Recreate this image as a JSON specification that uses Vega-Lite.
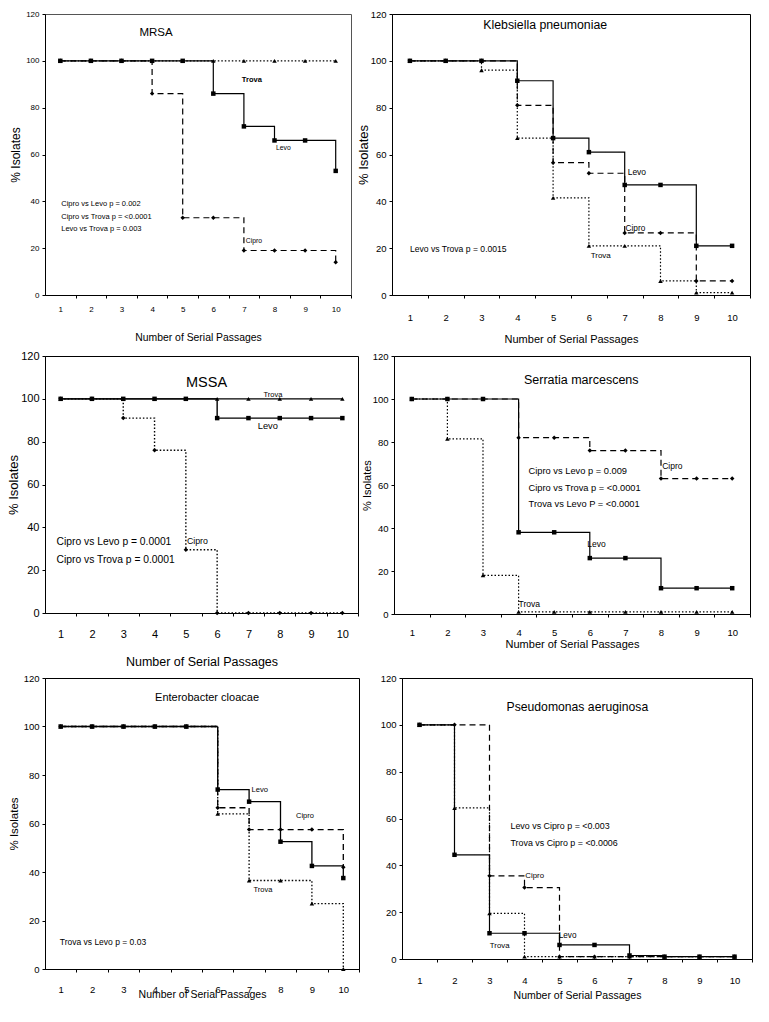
{
  "$schema": "https://vega.github.io/schema/vega-lite/v6.json",
  "padding": {"left": 7, "top": 8, "right": 5, "bottom": 5},
  "background": "white",
  "datasets": {
    "d": [
      {"panel": "MRSA", "drug": "Cipro", "passage": 1, "pct": 100}, {"panel": "MRSA", "drug": "Cipro", "passage": 2, "pct": 100}, {"panel": "MRSA", "drug": "Cipro", "passage": 3, "pct": 100}, {"panel": "MRSA", "drug": "Cipro", "passage": 4, "pct": 86}, {"panel": "MRSA", "drug": "Cipro", "passage": 5, "pct": 33}, {"panel": "MRSA", "drug": "Cipro", "passage": 6, "pct": 33}, {"panel": "MRSA", "drug": "Cipro", "passage": 7, "pct": 19}, {"panel": "MRSA", "drug": "Cipro", "passage": 8, "pct": 19}, {"panel": "MRSA", "drug": "Cipro", "passage": 9, "pct": 19}, {"panel": "MRSA", "drug": "Cipro", "passage": 10, "pct": 14},
      {"panel": "MRSA", "drug": "Trova", "passage": 1, "pct": 100}, {"panel": "MRSA", "drug": "Trova", "passage": 2, "pct": 100}, {"panel": "MRSA", "drug": "Trova", "passage": 3, "pct": 100}, {"panel": "MRSA", "drug": "Trova", "passage": 4, "pct": 100}, {"panel": "MRSA", "drug": "Trova", "passage": 5, "pct": 100}, {"panel": "MRSA", "drug": "Trova", "passage": 6, "pct": 100}, {"panel": "MRSA", "drug": "Trova", "passage": 7, "pct": 100}, {"panel": "MRSA", "drug": "Trova", "passage": 8, "pct": 100}, {"panel": "MRSA", "drug": "Trova", "passage": 9, "pct": 100}, {"panel": "MRSA", "drug": "Trova", "passage": 10, "pct": 100},
      {"panel": "MRSA", "drug": "Levo", "passage": 1, "pct": 100}, {"panel": "MRSA", "drug": "Levo", "passage": 2, "pct": 100}, {"panel": "MRSA", "drug": "Levo", "passage": 3, "pct": 100}, {"panel": "MRSA", "drug": "Levo", "passage": 4, "pct": 100}, {"panel": "MRSA", "drug": "Levo", "passage": 5, "pct": 100}, {"panel": "MRSA", "drug": "Levo", "passage": 6, "pct": 86}, {"panel": "MRSA", "drug": "Levo", "passage": 7, "pct": 72}, {"panel": "MRSA", "drug": "Levo", "passage": 8, "pct": 66}, {"panel": "MRSA", "drug": "Levo", "passage": 9, "pct": 66}, {"panel": "MRSA", "drug": "Levo", "passage": 10, "pct": 53},

      {"panel": "Kleb", "drug": "Cipro", "passage": 1, "pct": 100}, {"panel": "Kleb", "drug": "Cipro", "passage": 2, "pct": 100}, {"panel": "Kleb", "drug": "Cipro", "passage": 3, "pct": 100}, {"panel": "Kleb", "drug": "Cipro", "passage": 4, "pct": 81}, {"panel": "Kleb", "drug": "Cipro", "passage": 5, "pct": 56.5}, {"panel": "Kleb", "drug": "Cipro", "passage": 6, "pct": 52}, {"panel": "Kleb", "drug": "Cipro", "passage": 7, "pct": 26.5}, {"panel": "Kleb", "drug": "Cipro", "passage": 8, "pct": 26.5}, {"panel": "Kleb", "drug": "Cipro", "passage": 9, "pct": 6}, {"panel": "Kleb", "drug": "Cipro", "passage": 10, "pct": 6},
      {"panel": "Kleb", "drug": "Trova", "passage": 1, "pct": 100}, {"panel": "Kleb", "drug": "Trova", "passage": 2, "pct": 100}, {"panel": "Kleb", "drug": "Trova", "passage": 3, "pct": 96}, {"panel": "Kleb", "drug": "Trova", "passage": 4, "pct": 67}, {"panel": "Kleb", "drug": "Trova", "passage": 5, "pct": 41.5}, {"panel": "Kleb", "drug": "Trova", "passage": 6, "pct": 21}, {"panel": "Kleb", "drug": "Trova", "passage": 7, "pct": 21}, {"panel": "Kleb", "drug": "Trova", "passage": 8, "pct": 6}, {"panel": "Kleb", "drug": "Trova", "passage": 9, "pct": 1}, {"panel": "Kleb", "drug": "Trova", "passage": 10, "pct": 1},
      {"panel": "Kleb", "drug": "Levo", "passage": 1, "pct": 100}, {"panel": "Kleb", "drug": "Levo", "passage": 2, "pct": 100}, {"panel": "Kleb", "drug": "Levo", "passage": 3, "pct": 100}, {"panel": "Kleb", "drug": "Levo", "passage": 4, "pct": 91.5}, {"panel": "Kleb", "drug": "Levo", "passage": 5, "pct": 67}, {"panel": "Kleb", "drug": "Levo", "passage": 6, "pct": 61}, {"panel": "Kleb", "drug": "Levo", "passage": 7, "pct": 47}, {"panel": "Kleb", "drug": "Levo", "passage": 8, "pct": 47}, {"panel": "Kleb", "drug": "Levo", "passage": 9, "pct": 21}, {"panel": "Kleb", "drug": "Levo", "passage": 10, "pct": 21},

      {"panel": "MSSA", "drug": "Cipro", "passage": 1, "pct": 100}, {"panel": "MSSA", "drug": "Cipro", "passage": 2, "pct": 100}, {"panel": "MSSA", "drug": "Cipro", "passage": 3, "pct": 91}, {"panel": "MSSA", "drug": "Cipro", "passage": 4, "pct": 76}, {"panel": "MSSA", "drug": "Cipro", "passage": 5, "pct": 29.5}, {"panel": "MSSA", "drug": "Cipro", "passage": 6, "pct": 0}, {"panel": "MSSA", "drug": "Cipro", "passage": 7, "pct": 0}, {"panel": "MSSA", "drug": "Cipro", "passage": 8, "pct": 0}, {"panel": "MSSA", "drug": "Cipro", "passage": 9, "pct": 0}, {"panel": "MSSA", "drug": "Cipro", "passage": 10, "pct": 0},
      {"panel": "MSSA", "drug": "Trova", "passage": 1, "pct": 100}, {"panel": "MSSA", "drug": "Trova", "passage": 2, "pct": 100}, {"panel": "MSSA", "drug": "Trova", "passage": 3, "pct": 100}, {"panel": "MSSA", "drug": "Trova", "passage": 4, "pct": 100}, {"panel": "MSSA", "drug": "Trova", "passage": 5, "pct": 100}, {"panel": "MSSA", "drug": "Trova", "passage": 6, "pct": 100}, {"panel": "MSSA", "drug": "Trova", "passage": 7, "pct": 100}, {"panel": "MSSA", "drug": "Trova", "passage": 8, "pct": 100}, {"panel": "MSSA", "drug": "Trova", "passage": 9, "pct": 100}, {"panel": "MSSA", "drug": "Trova", "passage": 10, "pct": 100},
      {"panel": "MSSA", "drug": "Levo", "passage": 1, "pct": 100}, {"panel": "MSSA", "drug": "Levo", "passage": 2, "pct": 100}, {"panel": "MSSA", "drug": "Levo", "passage": 3, "pct": 100}, {"panel": "MSSA", "drug": "Levo", "passage": 4, "pct": 100}, {"panel": "MSSA", "drug": "Levo", "passage": 5, "pct": 100}, {"panel": "MSSA", "drug": "Levo", "passage": 6, "pct": 91}, {"panel": "MSSA", "drug": "Levo", "passage": 7, "pct": 91}, {"panel": "MSSA", "drug": "Levo", "passage": 8, "pct": 91}, {"panel": "MSSA", "drug": "Levo", "passage": 9, "pct": 91}, {"panel": "MSSA", "drug": "Levo", "passage": 10, "pct": 91},

      {"panel": "Serr", "drug": "Cipro", "passage": 1, "pct": 100}, {"panel": "Serr", "drug": "Cipro", "passage": 2, "pct": 100}, {"panel": "Serr", "drug": "Cipro", "passage": 3, "pct": 100}, {"panel": "Serr", "drug": "Cipro", "passage": 4, "pct": 82}, {"panel": "Serr", "drug": "Cipro", "passage": 5, "pct": 82}, {"panel": "Serr", "drug": "Cipro", "passage": 6, "pct": 76}, {"panel": "Serr", "drug": "Cipro", "passage": 7, "pct": 76}, {"panel": "Serr", "drug": "Cipro", "passage": 8, "pct": 63}, {"panel": "Serr", "drug": "Cipro", "passage": 9, "pct": 63}, {"panel": "Serr", "drug": "Cipro", "passage": 10, "pct": 63},
      {"panel": "Serr", "drug": "Trova", "passage": 1, "pct": 100}, {"panel": "Serr", "drug": "Trova", "passage": 2, "pct": 81.5}, {"panel": "Serr", "drug": "Trova", "passage": 3, "pct": 18}, {"panel": "Serr", "drug": "Trova", "passage": 4, "pct": 1}, {"panel": "Serr", "drug": "Trova", "passage": 5, "pct": 1}, {"panel": "Serr", "drug": "Trova", "passage": 6, "pct": 1}, {"panel": "Serr", "drug": "Trova", "passage": 7, "pct": 1}, {"panel": "Serr", "drug": "Trova", "passage": 8, "pct": 1}, {"panel": "Serr", "drug": "Trova", "passage": 9, "pct": 1}, {"panel": "Serr", "drug": "Trova", "passage": 10, "pct": 1},
      {"panel": "Serr", "drug": "Levo", "passage": 1, "pct": 100}, {"panel": "Serr", "drug": "Levo", "passage": 2, "pct": 100}, {"panel": "Serr", "drug": "Levo", "passage": 3, "pct": 100}, {"panel": "Serr", "drug": "Levo", "passage": 4, "pct": 38}, {"panel": "Serr", "drug": "Levo", "passage": 5, "pct": 38}, {"panel": "Serr", "drug": "Levo", "passage": 6, "pct": 26}, {"panel": "Serr", "drug": "Levo", "passage": 7, "pct": 26}, {"panel": "Serr", "drug": "Levo", "passage": 8, "pct": 12}, {"panel": "Serr", "drug": "Levo", "passage": 9, "pct": 12}, {"panel": "Serr", "drug": "Levo", "passage": 10, "pct": 12},

      {"panel": "Ent", "drug": "Cipro", "passage": 1, "pct": 100}, {"panel": "Ent", "drug": "Cipro", "passage": 2, "pct": 100}, {"panel": "Ent", "drug": "Cipro", "passage": 3, "pct": 100}, {"panel": "Ent", "drug": "Cipro", "passage": 4, "pct": 100}, {"panel": "Ent", "drug": "Cipro", "passage": 5, "pct": 100}, {"panel": "Ent", "drug": "Cipro", "passage": 6, "pct": 66.5}, {"panel": "Ent", "drug": "Cipro", "passage": 7, "pct": 57.5}, {"panel": "Ent", "drug": "Cipro", "passage": 8, "pct": 57.5}, {"panel": "Ent", "drug": "Cipro", "passage": 9, "pct": 57.5}, {"panel": "Ent", "drug": "Cipro", "passage": 10, "pct": 42},
      {"panel": "Ent", "drug": "Trova", "passage": 1, "pct": 100}, {"panel": "Ent", "drug": "Trova", "passage": 2, "pct": 100}, {"panel": "Ent", "drug": "Trova", "passage": 3, "pct": 100}, {"panel": "Ent", "drug": "Trova", "passage": 4, "pct": 100}, {"panel": "Ent", "drug": "Trova", "passage": 5, "pct": 100}, {"panel": "Ent", "drug": "Trova", "passage": 6, "pct": 64}, {"panel": "Ent", "drug": "Trova", "passage": 7, "pct": 36.5}, {"panel": "Ent", "drug": "Trova", "passage": 8, "pct": 36.5}, {"panel": "Ent", "drug": "Trova", "passage": 9, "pct": 27}, {"panel": "Ent", "drug": "Trova", "passage": 10, "pct": 0},
      {"panel": "Ent", "drug": "Levo", "passage": 1, "pct": 100}, {"panel": "Ent", "drug": "Levo", "passage": 2, "pct": 100}, {"panel": "Ent", "drug": "Levo", "passage": 3, "pct": 100}, {"panel": "Ent", "drug": "Levo", "passage": 4, "pct": 100}, {"panel": "Ent", "drug": "Levo", "passage": 5, "pct": 100}, {"panel": "Ent", "drug": "Levo", "passage": 6, "pct": 74}, {"panel": "Ent", "drug": "Levo", "passage": 7, "pct": 69}, {"panel": "Ent", "drug": "Levo", "passage": 8, "pct": 52.5}, {"panel": "Ent", "drug": "Levo", "passage": 9, "pct": 42.5}, {"panel": "Ent", "drug": "Levo", "passage": 10, "pct": 37.5},

      {"panel": "Pseu", "drug": "Cipro", "passage": 1, "pct": 100}, {"panel": "Pseu", "drug": "Cipro", "passage": 2, "pct": 100}, {"panel": "Pseu", "drug": "Cipro", "passage": 3, "pct": 35.5}, {"panel": "Pseu", "drug": "Cipro", "passage": 4, "pct": 30.5}, {"panel": "Pseu", "drug": "Cipro", "passage": 5, "pct": 1}, {"panel": "Pseu", "drug": "Cipro", "passage": 6, "pct": 1}, {"panel": "Pseu", "drug": "Cipro", "passage": 7, "pct": 1}, {"panel": "Pseu", "drug": "Cipro", "passage": 8, "pct": 1}, {"panel": "Pseu", "drug": "Cipro", "passage": 9, "pct": 1}, {"panel": "Pseu", "drug": "Cipro", "passage": 10, "pct": 1},
      {"panel": "Pseu", "drug": "Trova", "passage": 1, "pct": 100}, {"panel": "Pseu", "drug": "Trova", "passage": 2, "pct": 64.5}, {"panel": "Pseu", "drug": "Trova", "passage": 3, "pct": 19.5}, {"panel": "Pseu", "drug": "Trova", "passage": 4, "pct": 1}, {"panel": "Pseu", "drug": "Trova", "passage": 5, "pct": 1}, {"panel": "Pseu", "drug": "Trova", "passage": 6, "pct": 1}, {"panel": "Pseu", "drug": "Trova", "passage": 7, "pct": 1}, {"panel": "Pseu", "drug": "Trova", "passage": 8, "pct": 1}, {"panel": "Pseu", "drug": "Trova", "passage": 9, "pct": 1}, {"panel": "Pseu", "drug": "Trova", "passage": 10, "pct": 1},
      {"panel": "Pseu", "drug": "Levo", "passage": 1, "pct": 100}, {"panel": "Pseu", "drug": "Levo", "passage": 2, "pct": 44.5}, {"panel": "Pseu", "drug": "Levo", "passage": 3, "pct": 11}, {"panel": "Pseu", "drug": "Levo", "passage": 4, "pct": 11}, {"panel": "Pseu", "drug": "Levo", "passage": 5, "pct": 6}, {"panel": "Pseu", "drug": "Levo", "passage": 6, "pct": 6}, {"panel": "Pseu", "drug": "Levo", "passage": 7, "pct": 1.5}, {"panel": "Pseu", "drug": "Levo", "passage": 8, "pct": 1}, {"panel": "Pseu", "drug": "Levo", "passage": 9, "pct": 1}, {"panel": "Pseu", "drug": "Levo", "passage": 10, "pct": 1}
    ]
  },
  "spacing": 4,
  "resolve": {"scale": {"strokeDash": "independent", "shape": "independent"}},
  "vconcat": [
    {
      "spacing": 4,
      "resolve": {"scale": {"strokeDash": "independent", "shape": "independent"}},
      "hconcat": [
        {
          "width": 306, "height": 281,
          "view": {"stroke": "#555"},
          "data": {"name": "d"},
          "layer": [
            {"transform": [{"filter": "datum.panel == 'MRSA'"}],
             "mark": {"type": "line", "interpolate": "step-after", "color": "black", "strokeWidth": 1.2},
             "encoding": {
               "x": {"field": "passage", "type": "quantitative", "scale": {"domain": [0.5, 10.5], "nice": false, "zero": false},
                     "axis": {"values": [1,2,3,4,5,6,7,8,9,10], "tickCount": 12, "labelOverlap": false, "tickOffset": 15.3, "labelOffset": -15.3, "title": "Number of Serial Passages", "labelFontSize": 8, "labelPadding": 7, "titleFontSize": 10.4, "titlePadding": 19}},
               "y": {"field": "pct", "type": "quantitative", "scale": {"domain": [0, 120], "nice": false},
                     "axis": {"values": [0,20,40,60,80,100,120], "tickCount": 8, "labelOverlap": false, "title": "% Isolates", "labelFontSize": 8, "labelPadding": 3, "titleFontSize": 12, "titlePadding": 3}},
               "strokeDash": {"field": "drug", "type": "nominal", "scale": {"domain": ["Cipro","Levo","Trova"], "range": [[6,4],[1,0],[1.5,2]]}, "legend": null}
             }},
            {"transform": [{"filter": "datum.panel == 'MRSA'"}],
             "mark": {"type": "point", "filled": true, "color": "black", "opacity": 1, "size": 20},
             "encoding": {
               "x": {"field": "passage", "type": "quantitative"},
               "y": {"field": "pct", "type": "quantitative"},
               "shape": {"field": "drug", "type": "nominal", "scale": {"domain": ["Cipro","Levo","Trova"], "range": ["diamond","square","triangle-up"]}, "legend": null}
             }},
            {"data": {"values": [{}]}, "mark": {"type": "text", "text": "MRSA", "fontSize": 11.5}, "encoding": {"x": {"datum": 4.13}, "y": {"datum": 112}}},
            {"data": {"values": [{}]}, "mark": {"type": "text", "text": "Trova", "fontSize": 7.5, "fontWeight": "bold"}, "encoding": {"x": {"datum": 7.26}, "y": {"datum": 91.8}}},
            {"data": {"values": [{}]}, "mark": {"type": "text", "text": "Levo", "fontSize": 6.8}, "encoding": {"x": {"datum": 8.29}, "y": {"datum": 62.8}}},
            {"data": {"values": [{}]}, "mark": {"type": "text", "text": "Cipro", "fontSize": 6.8}, "encoding": {"x": {"datum": 7.33}, "y": {"datum": 23}}},
            {"data": {"values": [{}]}, "mark": {"type": "text", "text": ["Cipro vs Levo   p = 0.002", "Cipro vs Trova  p = <0.0001", "Levo  vs Trova  p = 0.003"], "fontSize": 7.5, "lineHeight": 12.5, "align": "left", "baseline": "top"}, "encoding": {"x": {"datum": 1.03}, "y": {"datum": 40.4}}}
          ]
        },
        {
          "width": 358, "height": 281,
          "data": {"name": "d"},
          "layer": [
            {"transform": [{"filter": "datum.panel == 'Kleb'"}],
             "mark": {"type": "line", "interpolate": "step-after", "color": "black", "strokeWidth": 1.2},
             "encoding": {
               "x": {"field": "passage", "type": "quantitative", "scale": {"domain": [0.5, 10.5], "nice": false, "zero": false},
                     "axis": {"values": [1,2,3,4,5,6,7,8,9,10], "tickCount": 12, "labelOverlap": false, "tickOffset": 17.9, "labelOffset": -17.9, "title": "Number of Serial Passages", "labelFontSize": 9.5, "labelPadding": 14, "titleFontSize": 11, "titlePadding": 12}},
               "y": {"field": "pct", "type": "quantitative", "scale": {"domain": [0, 120], "nice": false},
                     "axis": {"values": [0,20,40,60,80,100,120], "tickCount": 8, "labelOverlap": false, "title": "% Isolates", "labelFontSize": 9.5, "labelPadding": 3, "titleFontSize": 13, "titlePadding": 0}},
               "strokeDash": {"field": "drug", "type": "nominal", "scale": {"domain": ["Cipro","Levo","Trova"], "range": [[6,4],[1,0],[1.5,2]]}, "legend": null}
             }},
            {"transform": [{"filter": "datum.panel == 'Kleb'"}],
             "mark": {"type": "point", "filled": true, "color": "black", "opacity": 1, "size": 20},
             "encoding": {
               "x": {"field": "passage", "type": "quantitative"},
               "y": {"field": "pct", "type": "quantitative"},
               "shape": {"field": "drug", "type": "nominal", "scale": {"domain": ["Cipro","Levo","Trova"], "range": ["diamond","square","triangle-up"]}, "legend": null}
             }},
            {"data": {"values": [{}]}, "mark": {"type": "text", "text": "Klebsiella pneumoniae", "fontSize": 12.3}, "encoding": {"x": {"datum": 4.78}, "y": {"datum": 115.3}}},
            {"data": {"values": [{}]}, "mark": {"type": "text", "text": "Levo", "fontSize": 8.5}, "encoding": {"x": {"datum": 7.34}, "y": {"datum": 52.5}}},
            {"data": {"values": [{}]}, "mark": {"type": "text", "text": "Cipro", "fontSize": 8.3}, "encoding": {"x": {"datum": 7.3}, "y": {"datum": 28.2}}},
            {"data": {"values": [{}]}, "mark": {"type": "text", "text": "Trova", "fontSize": 8}, "encoding": {"x": {"datum": 6.33}, "y": {"datum": 16.7}}},
            {"data": {"values": [{}]}, "mark": {"type": "text", "text": "Levo  vs  Trova p = 0.0015", "fontSize": 8.6, "align": "left"}, "encoding": {"x": {"datum": 1.0}, "y": {"datum": 19.6}}}
          ]
        }
      ]
    },
    {
      "spacing": 1,
      "resolve": {"scale": {"strokeDash": "independent", "shape": "independent"}},
      "hconcat": [
        {
          "width": 313, "height": 257,
          "data": {"name": "d"},
          "layer": [
            {"transform": [{"filter": "datum.panel == 'MSSA'"}],
             "mark": {"type": "line", "interpolate": "step-after", "color": "black", "strokeWidth": 1.4},
             "encoding": {
               "x": {"field": "passage", "type": "quantitative", "scale": {"domain": [0.5, 10.5], "nice": false, "zero": false},
                     "axis": {"values": [1,2,3,4,5,6,7,8,9,10], "tickCount": 12, "labelOverlap": false, "tickOffset": 15.65, "labelOffset": -15.65, "title": "Number of Serial Passages", "labelFontSize": 11, "labelPadding": 12, "titleFontSize": 12.5, "titlePadding": 16}},
               "y": {"field": "pct", "type": "quantitative", "scale": {"domain": [0, 120], "nice": false},
                     "axis": {"values": [0,20,40,60,80,100,120], "tickCount": 8, "labelOverlap": false, "title": "% Isolates", "labelFontSize": 11, "labelPadding": 3, "titleFontSize": 13, "titlePadding": 0}},
               "strokeDash": {"field": "drug", "type": "nominal", "scale": {"domain": ["Cipro","Levo","Trova"], "range": [[1.5,2],[1,0],[1,0]]}, "legend": null}
             }},
            {"transform": [{"filter": "datum.panel == 'MSSA'"}],
             "mark": {"type": "point", "filled": true, "color": "black", "opacity": 1, "size": 20},
             "encoding": {
               "x": {"field": "passage", "type": "quantitative"},
               "y": {"field": "pct", "type": "quantitative"},
               "shape": {"field": "drug", "type": "nominal", "scale": {"domain": ["Cipro","Levo","Trova"], "range": ["diamond","square","triangle-up"]}, "legend": null}
             }},
            {"data": {"values": [{}]}, "mark": {"type": "text", "text": "MSSA", "fontSize": 14.5}, "encoding": {"x": {"datum": 5.66}, "y": {"datum": 107.6}}},
            {"data": {"values": [{}]}, "mark": {"type": "text", "text": "Trova", "fontSize": 7.5}, "encoding": {"x": {"datum": 7.78}, "y": {"datum": 101.9}}},
            {"data": {"values": [{}]}, "mark": {"type": "text", "text": "Levo", "fontSize": 9.3}, "encoding": {"x": {"datum": 7.62}, "y": {"datum": 87.2}}},
            {"data": {"values": [{}]}, "mark": {"type": "text", "text": "Cipro", "fontSize": 8.8}, "encoding": {"x": {"datum": 5.37}, "y": {"datum": 33.7}}},
            {"data": {"values": [{}]}, "mark": {"type": "text", "text": ["Cipro vs Levo  p = 0.0001", "Cipro vs Trova p = 0.0001"], "fontSize": 10.3, "lineHeight": 18, "align": "left", "baseline": "top"}, "encoding": {"x": {"datum": 0.87}, "y": {"datum": 35.5}}}
          ]
        },
        {
          "width": 356, "height": 258,
          "data": {"name": "d"},
          "layer": [
            {"transform": [{"filter": "datum.panel == 'Serr'"}],
             "mark": {"type": "line", "interpolate": "step-after", "color": "black", "strokeWidth": 1.2},
             "encoding": {
               "x": {"field": "passage", "type": "quantitative", "scale": {"domain": [0.5, 10.5], "nice": false, "zero": false},
                     "axis": {"values": [1,2,3,4,5,6,7,8,9,10], "tickCount": 12, "labelOverlap": false, "tickOffset": 17.8, "labelOffset": -17.8, "title": "Number of Serial Passages", "labelFontSize": 9.5, "labelPadding": 10, "titleFontSize": 11, "titlePadding": 2}},
               "y": {"field": "pct", "type": "quantitative", "scale": {"domain": [0, 120], "nice": false},
                     "axis": {"values": [0,20,40,60,80,100,120], "tickCount": 8, "labelOverlap": false, "title": "% Isolates", "labelFontSize": 9.5, "labelPadding": 3, "titleFontSize": 11, "titlePadding": 0}},
               "strokeDash": {"field": "drug", "type": "nominal", "scale": {"domain": ["Cipro","Levo","Trova"], "range": [[6,4],[1,0],[1.5,2]]}, "legend": null}
             }},
            {"transform": [{"filter": "datum.panel == 'Serr'"}],
             "mark": {"type": "point", "filled": true, "color": "black", "opacity": 1, "size": 20},
             "encoding": {
               "x": {"field": "passage", "type": "quantitative"},
               "y": {"field": "pct", "type": "quantitative"},
               "shape": {"field": "drug", "type": "nominal", "scale": {"domain": ["Cipro","Levo","Trova"], "range": ["diamond","square","triangle-up"]}, "legend": null}
             }},
            {"data": {"values": [{}]}, "mark": {"type": "text", "text": "Serratia  marcescens", "fontSize": 12.5}, "encoding": {"x": {"datum": 5.76}, "y": {"datum": 108.8}}},
            {"data": {"values": [{}]}, "mark": {"type": "text", "text": "Cipro", "fontSize": 8.5}, "encoding": {"x": {"datum": 8.32}, "y": {"datum": 68.8}}},
            {"data": {"values": [{}]}, "mark": {"type": "text", "text": "Levo", "fontSize": 8.5}, "encoding": {"x": {"datum": 6.19}, "y": {"datum": 32.6}}},
            {"data": {"values": [{}]}, "mark": {"type": "text", "text": "Trova", "fontSize": 8.6}, "encoding": {"x": {"datum": 4.3}, "y": {"datum": 4.6}}},
            {"data": {"values": [{}]}, "mark": {"type": "text", "text": ["Cipro vs Levo  p = 0.009", "Cipro vs Trova p = <0.0001", "Trova vs Levo   P = <0.0001"], "fontSize": 9.3, "lineHeight": 16.5, "align": "left", "baseline": "top"}, "encoding": {"x": {"datum": 4.28}, "y": {"datum": 68.3}}}
          ]
        }
      ]
    },
    {
      "spacing": 19,
      "resolve": {"scale": {"strokeDash": "independent", "shape": "independent"}},
      "hconcat": [
        {
          "width": 314, "height": 291,
          "data": {"name": "d"},
          "layer": [
            {"transform": [{"filter": "datum.panel == 'Ent'"}],
             "mark": {"type": "line", "interpolate": "step-after", "color": "black", "strokeWidth": 1.3},
             "encoding": {
               "x": {"field": "passage", "type": "quantitative", "scale": {"domain": [0.5, 10.5], "nice": false, "zero": false},
                     "axis": {"values": [1,2,3,4,5,6,7,8,9,10], "tickCount": 12, "labelOverlap": false, "tickOffset": 15.7, "labelOffset": -15.7, "title": "Number of Serial Passages", "labelFontSize": 9.5, "labelPadding": 12, "titleFontSize": 10.5, "titlePadding": -4.5}},
               "y": {"field": "pct", "type": "quantitative", "scale": {"domain": [0, 120], "nice": false},
                     "axis": {"values": [0,20,40,60,80,100,120], "tickCount": 8, "labelOverlap": false, "title": "% Isolates", "labelFontSize": 9.5, "labelPadding": 3, "titleFontSize": 11.5, "titlePadding": 3.5}},
               "strokeDash": {"field": "drug", "type": "nominal", "scale": {"domain": ["Cipro","Levo","Trova"], "range": [[6,4],[1,0],[1.5,2]]}, "legend": null}
             }},
            {"transform": [{"filter": "datum.panel == 'Ent'"}],
             "mark": {"type": "point", "filled": true, "color": "black", "opacity": 1, "size": 20},
             "encoding": {
               "x": {"field": "passage", "type": "quantitative"},
               "y": {"field": "pct", "type": "quantitative"},
               "shape": {"field": "drug", "type": "nominal", "scale": {"domain": ["Cipro","Levo","Trova"], "range": ["diamond","square","triangle-up"]}, "legend": null}
             }},
            {"data": {"values": [{}]}, "mark": {"type": "text", "text": "Enterobacter cloacae", "fontSize": 11}, "encoding": {"x": {"datum": 5.66}, "y": {"datum": 111.7}}},
            {"data": {"values": [{}]}, "mark": {"type": "text", "text": "Levo", "fontSize": 7.6}, "encoding": {"x": {"datum": 7.34}, "y": {"datum": 73.7}}},
            {"data": {"values": [{}]}, "mark": {"type": "text", "text": "Cipro", "fontSize": 7.5}, "encoding": {"x": {"datum": 8.78}, "y": {"datum": 63}}},
            {"data": {"values": [{}]}, "mark": {"type": "text", "text": "Trova", "fontSize": 7.5}, "encoding": {"x": {"datum": 7.44}, "y": {"datum": 32.5}}},
            {"data": {"values": [{}]}, "mark": {"type": "text", "text": "Trova vs Levo   p = 0.03", "fontSize": 8.5, "align": "left"}, "encoding": {"x": {"datum": 0.97}, "y": {"datum": 11.1}}}
          ]
        },
        {
          "width": 350, "height": 281,
          "data": {"name": "d"},
          "layer": [
            {"transform": [{"filter": "datum.panel == 'Pseu'"}],
             "mark": {"type": "line", "interpolate": "step-after", "color": "black", "strokeWidth": 1.2},
             "encoding": {
               "x": {"field": "passage", "type": "quantitative", "scale": {"domain": [0.5, 10.5], "nice": false, "zero": false},
                     "axis": {"values": [1,2,3,4,5,6,7,8,9,10], "tickCount": 12, "labelOverlap": false, "tickOffset": 17.5, "labelOffset": -17.5, "title": "Number of Serial Passages", "labelFontSize": 9.5, "labelPadding": 13, "titleFontSize": 10.5, "titlePadding": 6}},
               "y": {"field": "pct", "type": "quantitative", "scale": {"domain": [0, 120], "nice": false},
                     "axis": {"values": [0,20,40,60,80,100,120], "tickCount": 8, "labelOverlap": false, "title": null, "labelFontSize": 9.5, "labelPadding": 3}},
               "strokeDash": {"field": "drug", "type": "nominal", "scale": {"domain": ["Cipro","Levo","Trova"], "range": [[6,4],[1,0],[1.5,2]]}, "legend": null}
             }},
            {"transform": [{"filter": "datum.panel == 'Pseu'"}],
             "mark": {"type": "point", "filled": true, "color": "black", "opacity": 1, "size": 20},
             "encoding": {
               "x": {"field": "passage", "type": "quantitative"},
               "y": {"field": "pct", "type": "quantitative"},
               "shape": {"field": "drug", "type": "nominal", "scale": {"domain": ["Cipro","Levo","Trova"], "range": ["diamond","square","triangle-up"]}, "legend": null}
             }},
            {"data": {"values": [{}]}, "mark": {"type": "text", "text": "Pseudomonas aeruginosa", "fontSize": 12.2}, "encoding": {"x": {"datum": 5.51}, "y": {"datum": 107.6}}},
            {"data": {"values": [{}]}, "mark": {"type": "text", "text": "Cipro", "fontSize": 7.8}, "encoding": {"x": {"datum": 4.29}, "y": {"datum": 35.4}}},
            {"data": {"values": [{}]}, "mark": {"type": "text", "text": "Levo", "fontSize": 8.2}, "encoding": {"x": {"datum": 5.23}, "y": {"datum": 9.8}}},
            {"data": {"values": [{}]}, "mark": {"type": "text", "text": "Trova", "fontSize": 7.8}, "encoding": {"x": {"datum": 3.29}, "y": {"datum": 5.6}}},
            {"data": {"values": [{}]}, "mark": {"type": "text", "text": ["Levo vs Cipro   p = <0.003", "Trova vs Cipro  p = <0.0006"], "fontSize": 8.9, "lineHeight": 17, "align": "left", "baseline": "top"}, "encoding": {"x": {"datum": 3.6}, "y": {"datum": 58.5}}}
          ]
        }
      ]
    }
  ],
  "config": {
    "font": "Liberation Sans",
    "view": {"stroke": "black", "strokeWidth": 1},
    "axis": {"grid": false, "domainColor": "black", "tickColor": "black", "labelColor": "black", "titleColor": "black", "titleFontWeight": "normal", "tickSize": 3, "labelOverlap": false, "labelBound": false, "labelFlush": false, "labelFont": "Liberation Sans", "titleFont": "Liberation Sans"},
    "text": {"color": "black", "font": "Liberation Sans"}
  }
}
